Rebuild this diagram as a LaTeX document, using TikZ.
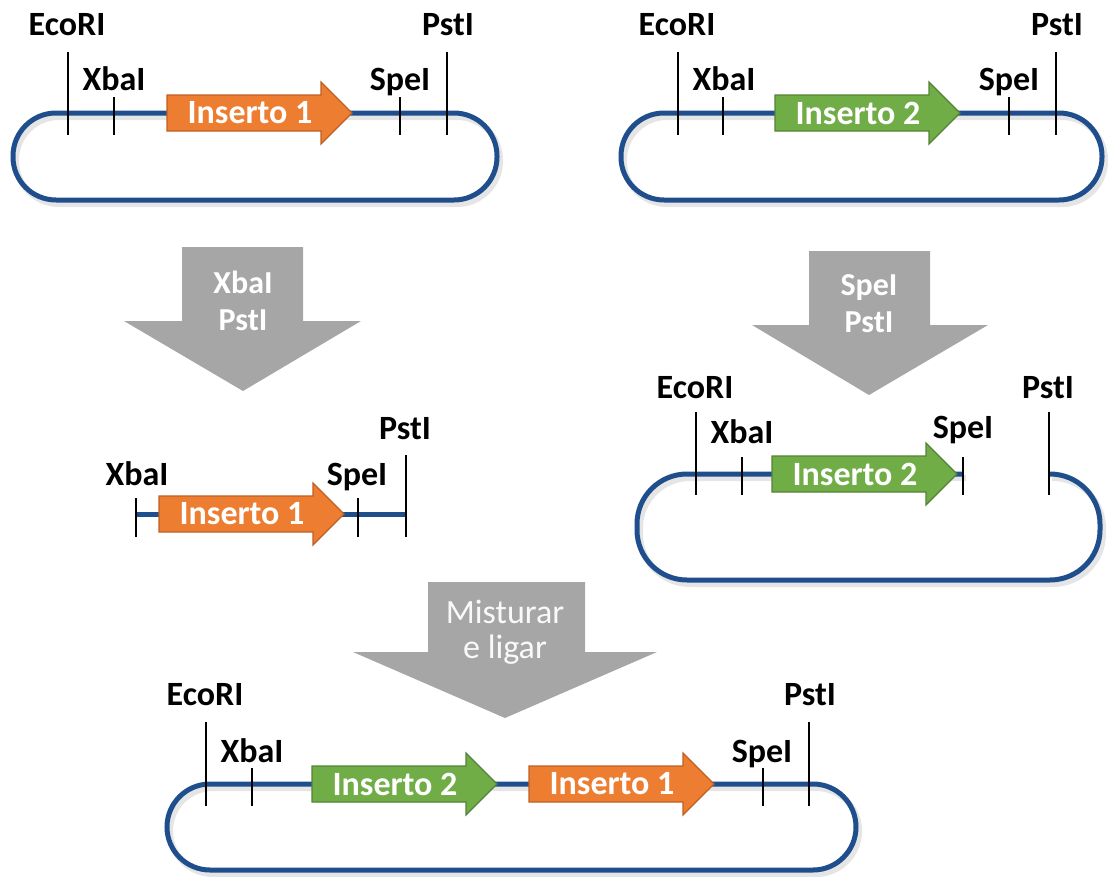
\documentclass[tikz,border=0pt]{standalone}
\usepackage{fontspec}
\setmainfont{Carlito}
\definecolor{dnablue}{RGB}{31,78,140}
\definecolor{insorange}{RGB}{237,125,49}
\definecolor{insorangeb}{RGB}{190,95,35}
\definecolor{insgreen}{RGB}{112,173,71}
\definecolor{insgreenb}{RGB}{84,130,53}
\definecolor{stepgray}{RGB}{166,166,166}
\newcommand{\dnains}[5]{%
  \filldraw[fill=#4, draw=#4b, line width=1.2pt] (#2,#3-18) -- (#2+154,#3-18) -- (#2+154,#3-31) -- (#2+185,#3) -- (#2+154,#3+31) -- (#2+154,#3+18) -- (#2,#3+18) -- cycle;
  \node[instext] (#1) at (#2+83,#3) {#5};}
\begin{document}
\begin{tikzpicture}[x=1pt,y=-1pt,
  dna/.style={draw=dnablue, line width=5pt},
  dnashadow/.style={draw=black, opacity=0.10, line width=6pt},
  cut/.style={draw=black, line width=2.4pt},
  site/.style={font=\fontsize{34}{36}\selectfont\bfseries, inner sep=0pt, anchor=base},
  instext/.style={font=\fontsize{34}{36}\selectfont\bfseries, text=white, inner sep=0pt},
  stepbox/.style={fill=stepgray, draw=none},
  steptext/.style={font=\fontsize{32}{34}\selectfont\bfseries, text=white, inner sep=0pt, anchor=base}]
\useasboundingbox (0,0) rectangle (1109,876);

% ---------- top left plasmid ----------
\draw[dnashadow, rounded corners=43pt] (16,117) rectangle (500,204);
\draw[dna, rounded corners=43pt] (13,113) rectangle (497,200);
\draw[cut] (68,52) -- (68,135);
\draw[cut] (114,97) -- (114,135);
\draw[cut] (400,97) -- (400,135);
\draw[cut] (447,52) -- (447,135);
\node[site] (e1) at (67,35) {EcoRI};
\node[site] (x1) at (114,90) {XbaI};
\node[site] (s1) at (400,90) {SpeI};
\node[site] (p1) at (448,35) {PstI};
\dnains{i1}{167}{113}{insorange}{Inserto 1}

% ---------- top right plasmid ----------
\draw[dnashadow, rounded corners=43pt] (624,117) rectangle (1105,204);
\draw[dna, rounded corners=43pt] (621,113) rectangle (1102,200);
\draw[cut] (678,52) -- (678,135);
\draw[cut] (723,97) -- (723,135);
\draw[cut] (1009,97) -- (1009,135);
\draw[cut] (1056,52) -- (1056,135);
\node[site] (e2) at (677,35) {EcoRI};
\node[site] (x2) at (724,90) {XbaI};
\node[site] (s2) at (1009,90) {SpeI};
\node[site] (p2) at (1057,35) {PstI};
\dnains{i2}{775}{113}{insgreen}{Inserto 2}

% ---------- gray step arrows ----------
\fill[stepgray] (182,247) -- (303,247) -- (303,321) -- (361,321) -- (243,391) -- (124,321) -- (182,321) -- cycle;
\node[steptext] (a1) at (243,293) {XbaI};
\node[steptext] (b1) at (243,330) {PstI};

\fill[stepgray] (809,251) -- (930,251) -- (930,325) -- (988,325) -- (869,395) -- (752,325) -- (809,325) -- cycle;
\node[steptext] (a2) at (869,295) {SpeI};
\node[steptext] (b2) at (869,332) {PstI};

\fill[stepgray] (428,582) -- (585,582) -- (585,652) -- (657,652) -- (505,718) -- (353,652) -- (428,652) -- cycle;
\node[font=\fontsize{34}{35}\selectfont, text=white!95!gray, align=center, inner sep=0pt, anchor=north] (a3) at (505,600) {Misturar\\e ligar};

% ---------- middle left fragment ----------
\draw[dna] (136,514) -- (406,514);
\draw[cut] (136,498) -- (136,537);
\draw[cut] (358,498) -- (358,537);
\draw[cut] (406,455) -- (406,537);
\node[site] (x3) at (137,485) {XbaI};
\node[site] (s3) at (357,485) {SpeI};
\node[site] (p3) at (405,439) {PstI};
\dnains{i3}{159}{514}{insorange}{Inserto 1}

% ---------- middle right opened plasmid ----------
\draw[dnashadow, rounded corners=50pt] (966,478) -- (640,478) -- (640,584) -- (1103,584) -- (1103,478) -- (1052,478);
\draw[dna, rounded corners=50pt] (963,474) -- (637,474) -- (637,580) -- (1100,580) -- (1100,474) -- (1049,474);
\draw[cut] (696,412) -- (696,495);
\draw[cut] (742,457) -- (742,495);
\draw[draw=black, line width=1.3pt] (963,457) -- (963,495);
\draw[cut] (1049,412) -- (1049,495);
\node[site] (e4) at (695,398) {EcoRI};
\node[site] (x4) at (742,443) {XbaI};
\node[site] (s4) at (963,438) {SpeI};
\node[site] (p4) at (1048,398) {PstI};
\dnains{i4}{772}{474}{insgreen}{Inserto 2}

% ---------- bottom ligated plasmid ----------
\draw[dnashadow, rounded corners=43pt] (170,788) rectangle (859,874);
\draw[dna, rounded corners=43pt] (167,784) rectangle (856,870);
\draw[cut] (206,722) -- (206,806);
\draw[cut] (252,768) -- (252,806);
\draw[cut] (763,768) -- (763,806);
\draw[cut] (809,722) -- (809,806);
\node[site] (e5) at (205,705) {EcoRI};
\node[site] (x5) at (252,762) {XbaI};
\node[site] (s5) at (762,762) {SpeI};
\node[site] (p5) at (810,705) {PstI};
\dnains{i5}{312}{784}{insgreen}{Inserto 2}
\dnains{i6}{529}{784}{insorange}{Inserto 1}
\end{tikzpicture}
\end{document}
